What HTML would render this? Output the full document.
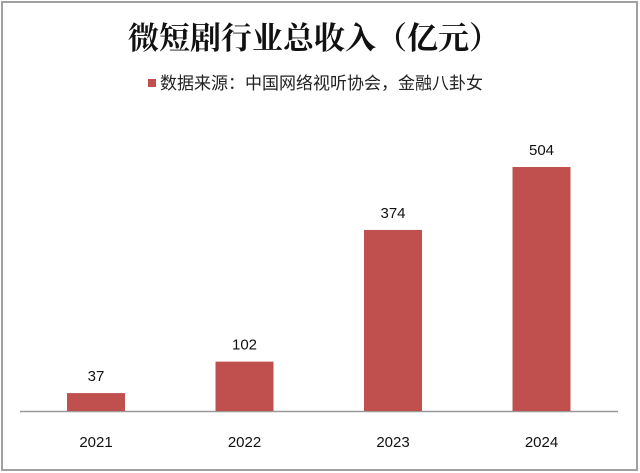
<!DOCTYPE html>
<html><head><meta charset="utf-8"><style>
body{margin:0;background:#fff;}
svg{display:block;}
</style></head><body>
<svg width="640" height="473" xmlns="http://www.w3.org/2000/svg">
<rect x="2" y="2" width="635" height="468" fill="#fff" stroke="#a0a0a0" stroke-width="2"/>
<text x="314" y="49" text-anchor="middle" font-family="'Liberation Serif','Noto Serif CJK SC',serif" font-size="31" font-weight="bold" fill="#111">微短剧行业总收入（亿元）</text>
<rect x="148" y="79" width="8" height="8" fill="#c0504d"/>
<text x="160" y="89" font-family="'Liberation Sans','Noto Sans CJK SC',sans-serif" font-size="17" fill="#222">数据来源：中国网络视听协会，金融八卦女</text>
<line x1="20" y1="411.5" x2="618" y2="411.5" stroke="#999" stroke-width="1.5"/>
<g id="bars"></g>
</svg>
<script>
const categories=["2021","2022","2023","2024"];
const values=[37,102,374,504];
const valueLabels=["37","102","374","504"];
const svg=document.getElementById('bars');
const NS="http://www.w3.org/2000/svg";
const base=411, pxPerUnit=244/504;
const yScale=v=>base-v*pxPerUnit;
const xCenter=i=>96+i*148.5;
const bw=58;
categories.forEach((c,i)=>{
  const r=document.createElementNS(NS,'rect');
  r.setAttribute('x',xCenter(i)-bw/2);
  r.setAttribute('y',yScale(values[i]));
  r.setAttribute('width',bw);
  r.setAttribute('height',base-yScale(values[i]));
  r.setAttribute('fill','#c0504d');
  
  
  svg.appendChild(r);
  const t=document.createElementNS(NS,'text');
  t.setAttribute('x',xCenter(i));
  t.setAttribute('y',yScale(values[i])-12);
  t.setAttribute('text-anchor','middle');
  t.setAttribute('font-family','Liberation Sans, sans-serif');
  t.setAttribute('font-size','15');
  t.setAttribute('fill','#111');
  t.textContent=valueLabels[i];
  
  
  svg.appendChild(t);
  const l=document.createElementNS(NS,'text');
  l.setAttribute('x',xCenter(i));
  l.setAttribute('y',447);
  l.setAttribute('text-anchor','middle');
  l.setAttribute('font-family','Liberation Sans, sans-serif');
  l.setAttribute('font-size','15');
  l.setAttribute('fill','#111');
  l.textContent=c;
  
  
  svg.appendChild(l);
});
</script>
</body></html>
